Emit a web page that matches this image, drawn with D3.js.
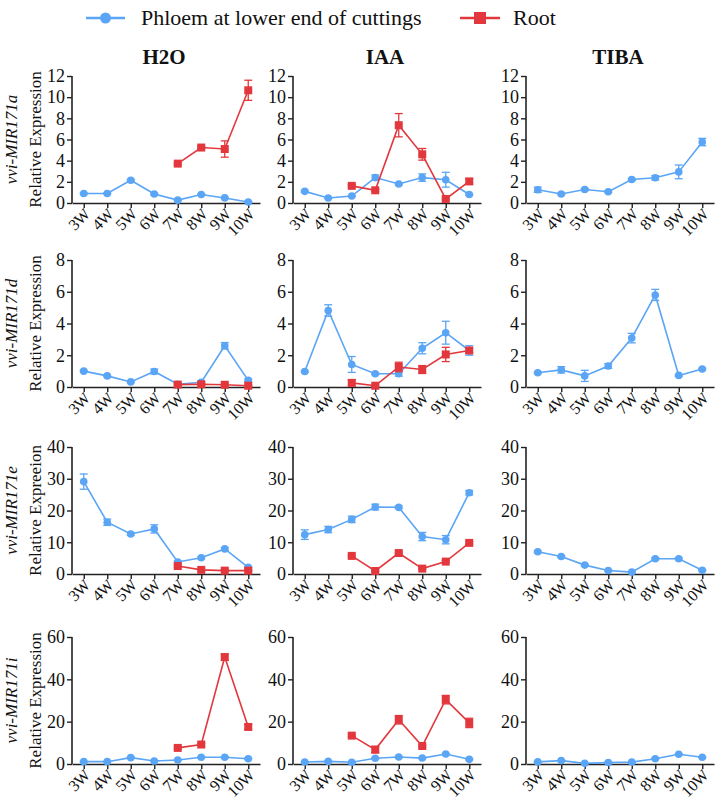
<!DOCTYPE html>
<html>
<head>
<meta charset="utf-8">
<script src="https://cdn.jsdelivr.net/npm/d3@7"></script>
<style>
  body { margin: 0; background: #fff; }
  svg { display: block; }
  svg text { font-family: "Liberation Serif", "DejaVu Serif", serif; }
</style>
</head>
<body>
<div id="chart"></div>
<script>
const weeks = ["3W", "4W", "5W", "6W", "7W", "8W", "9W", "10W"];
const treatments = ["H2O", "IAA", "TIBA"];
const genes = ["vvi-MIR171a", "vvi-MIR171d", "vvi-MIR171e", "vvi-MIR171i"];
const yTitles = ["Relative Expression", "Relative Expression", "Relative Expreeion", "Relative Expression"];
const yMax = [12, 8, 40, 60];
const yTickStep = [2, 2, 10, 20];
const seriesNames = ["Phloem at lower end of cuttings", "Root"];

// phloem means, per gene: [H2O, IAA, TIBA]
const phloem171a = [
  [0.9, 0.9, 2.15, 0.85, 0.27, 0.8, 0.48, 0.1],
  [1.1, 0.47, 0.66, 2.4, 1.8, 2.4, 2.2, 0.8],
  [1.25, 0.85, 1.28, 1.07, 2.22, 2.38, 2.94, 5.76]
];
const phloem171aErr = [
  [0.05, 0.05, 0.08, 0.08, 0.05, 0.06, 0.05, 0.05],
  [0.08, 0.05, 0.05, 0.25, 0.1, 0.35, 0.7, 0.08],
  [0.25, 0.08, 0.1, 0.08, 0.1, 0.2, 0.65, 0.35]
];
const root171a = [
  [null, null, null, null, 3.72, 5.24, 5.1, 10.65],
  [null, null, 1.62, 1.2, 7.35, 4.6, 0.38, 2.04],
  [null, null, null, null, null, null, null, null]
];
const root171aErr = [
  [0, 0, 0, 0, 0.1, 0.1, 0.77, 0.95],
  [0, 0, 0.1, 0.1, 1.1, 0.55, 0.1, 0.25],
  [0, 0, 0, 0, 0, 0, 0, 0]
];

const phloem171d = [
  [1.0, 0.7, 0.32, 0.98, 0.17, 0.3, 2.6, 0.42],
  [0.98, 4.82, 1.42, 0.83, 0.83, 2.44, 3.42, 2.3],
  [0.9, 1.08, 0.7, 1.32, 3.08, 5.8, 0.73, 1.13]
];
const phloem171dErr = [
  [0.05, 0.05, 0.05, 0.15, 0.05, 0.05, 0.2, 0.08],
  [0.05, 0.36, 0.5, 0.05, 0.15, 0.35, 0.72, 0.3],
  [0.05, 0.2, 0.35, 0.15, 0.3, 0.35, 0.05, 0.05]
];
const root171d = [
  [null, null, null, null, 0.15, 0.17, 0.14, 0.08],
  [null, null, 0.26, 0.08, 1.26, 1.1, 2.05, 2.3],
  [null, null, null, null, null, null, null, null]
];
const root171dErr = [
  [0, 0, 0, 0, 0.05, 0.05, 0.05, 0.03],
  [0, 0, 0.2, 0.05, 0.3, 0.25, 0.45, 0.15],
  [0, 0, 0, 0, 0, 0, 0, 0]
];

const phloem171e = [
  [29.1, 16.3, 12.6, 14.2, 3.8, 5.1, 7.9, 2.1],
  [12.4, 14.0, 17.2, 21.1, 21.0, 11.8, 10.8, 25.6],
  [7.0, 5.5, 2.8, 1.1, 0.6, 4.8, 4.8, 1.2]
];
const phloem171eErr = [
  [2.4, 1.0, 0.4, 1.3, 0.3, 0.3, 0.4, 0.2],
  [1.5, 1.0, 1.0, 0.9, 0.4, 1.3, 1.3, 0.7],
  [0.3, 0.3, 0.3, 0.2, 0.2, 0.3, 0.3, 0.2]
];
const root171e = [
  [null, null, null, null, 2.5, 1.3, 1.06, 1.06],
  [null, null, 5.7, 0.95, 6.6, 1.7, 3.9, 9.8],
  [null, null, null, null, null, null, null, null]
];
const root171eErr = [
  [0, 0, 0, 0, 0.4, 0.2, 0.2, 0.2],
  [0, 0, 0.3, 0.2, 0.3, 0.2, 0.3, 0.4],
  [0, 0, 0, 0, 0, 0, 0, 0]
];

const phloem171i = [
  [1.1, 1.1, 3.0, 1.4, 1.9, 3.2, 3.2, 2.5],
  [0.95, 1.26, 0.8, 2.7, 3.3, 2.8, 4.7, 2.2],
  [1.0, 1.6, 0.3, 0.7, 0.9, 2.5, 4.6, 3.2]
];
const phloem171iErr = [
  [0.2, 0.2, 0.3, 0.2, 0.2, 0.3, 0.3, 0.3],
  [0.2, 0.2, 0.2, 0.3, 0.3, 0.3, 0.3, 0.3],
  [0.2, 0.2, 0.2, 0.2, 0.2, 0.2, 0.3, 0.2]
];
const root171i = [
  [null, null, null, null, 7.6, 9.2, 50.5, 17.5],
  [null, null, 13.4, 6.8, 20.9, 8.5, 30.4, 19.4],
  [null, null, null, null, null, null, null, null]
];
const root171iErr = [
  [0, 0, 0, 0, 0.5, 0.5, 1.5, 1.2],
  [0, 0, 0.5, 1.5, 2.0, 0.5, 2.0, 2.2],
  [0, 0, 0, 0, 0, 0, 0, 0]
];

const phloemAll = [phloem171a, phloem171d, phloem171e, phloem171i];
const phloemErrAll = [phloem171aErr, phloem171dErr, phloem171eErr, phloem171iErr];
const rootAll = [root171a, root171d, root171e, root171i];
const rootErrAll = [root171aErr, root171dErr, root171eErr, root171iErr];

const width = 722, height = 801;
const blue = "#5aa5f5", red = "#e2383d", axisColor = "#222";
const serif = "Liberation Serif, DejaVu Serif, serif";

const colX = [72, 293, 526];
const rowTop = [76, 260, 447, 637];
const plotW = 188, plotH = 127;

const svg = d3.select("#chart")
  .append("svg")
  .attr("width", width)
  .attr("height", height);

// legend
const legend = svg.append("g").attr("transform", "translate(0,18)");
legend.append("line").attr("x1", 86).attr("x2", 125).attr("y1", 0).attr("y2", 0)
  .attr("stroke", blue).attr("stroke-width", 2.5);
legend.append("circle").attr("cx", 105.5).attr("cy", 0).attr("r", 5.5).attr("fill", blue);
legend.append("text").attr("x", 141).attr("y", 7).text(seriesNames[0])
  .attr("font-family", serif).attr("font-size", 22).attr("fill", "#111");
legend.append("line").attr("x1", 460).attr("x2", 500).attr("y1", 0).attr("y2", 0)
  .attr("stroke", red).attr("stroke-width", 2.5);
legend.append("rect").attr("x", 474).attr("y", -6).attr("width", 12).attr("height", 12).attr("fill", red);
legend.append("text").attr("x", 513).attr("y", 7).text(seriesNames[1])
  .attr("font-family", serif).attr("font-size", 22).attr("fill", "#111");

// column titles
treatments.forEach((t, j) => {
  svg.append("text")
    .attr("x", colX[j] + plotW / 2 - 2)
    .attr("y", 64)
    .attr("text-anchor", "middle")
    .attr("font-family", serif)
    .attr("font-size", 21)
    .attr("font-weight", "bold")
    .attr("fill", "#111")
    .text(t);
});

const x = d3.scalePoint().domain(weeks).range([0, plotW]).padding(0.5);

genes.forEach((gene, i) => {
  const y = d3.scaleLinear().domain([0, yMax[i]]).range([plotH, 0]);
  const ticks = d3.range(0, yMax[i] + 0.001, yTickStep[i]);

  // row labels
  const cy = rowTop[i] + plotH / 2;
  svg.append("text")
    .attr("transform", `translate(17,${cy}) rotate(-90)`)
    .attr("text-anchor", "middle")
    .attr("font-family", serif)
    .attr("font-size", 17)
    .attr("font-style", "italic")
    .attr("fill", "#111")
    .text(gene);
  svg.append("text")
    .attr("transform", `translate(41,${cy}) rotate(-90)`)
    .attr("text-anchor", "middle")
    .attr("font-family", serif)
    .attr("font-size", 17)
    .attr("fill", "#111")
    .text(yTitles[i]);

  treatments.forEach((t, j) => {
    const g = svg.append("g").attr("transform", `translate(${colX[j]},${rowTop[i]})`);

    const yAxis = g.append("g")
      .call(d3.axisLeft(y).tickValues(ticks).tickSize(5).tickPadding(2).tickFormat(d3.format("d")));
    const xAxis = g.append("g")
      .attr("transform", `translate(0,${plotH})`)
      .call(d3.axisBottom(x).tickSize(5).tickSizeOuter(0).tickPadding(3));

    [yAxis, xAxis].forEach(a => {
      a.attr("font-family", serif);
      a.select(".domain").attr("stroke", axisColor).attr("stroke-width", 1.6);
      a.selectAll(".tick line").attr("stroke", axisColor).attr("stroke-width", 1.4);
      a.selectAll("text").attr("fill", "#111").attr("font-family", serif);
    });
    yAxis.select(".domain").attr("d", `M0,0H0V${plotH}`);
    yAxis.attr("font-size", 18);
    xAxis.attr("font-size", 16);
    xAxis.selectAll("text")
      .attr("text-anchor", "end")
      .attr("dy", "0.35em")
      .attr("y", 0)
      .attr("transform", "translate(3,8) rotate(-45)");

    const series = [
      { vals: phloemAll[i][j], errs: phloemErrAll[i][j], color: blue, shape: "circle" },
      { vals: rootAll[i][j], errs: rootErrAll[i][j], color: red, shape: "square" }
    ];

    series.forEach(s => {
      const pts = weeks.map((w, k) => ({ w, v: s.vals[k], e: s.errs[k] }))
        .filter(d => d.v !== null);
      if (!pts.length) return;

      const line = d3.line().x(d => x(d.w)).y(d => y(d.v));
      g.append("path").datum(pts)
        .attr("d", line)
        .attr("fill", "none")
        .attr("stroke", s.color)
        .attr("stroke-width", 1.6);

      const eb = g.selectAll(null).data(pts.filter(d => d.e > 0)).enter().append("g")
        .attr("stroke", s.color).attr("stroke-width", 1.3);
      eb.append("line")
        .attr("x1", d => x(d.w)).attr("x2", d => x(d.w))
        .attr("y1", d => y(d.v + d.e)).attr("y2", d => y(Math.max(0, d.v - d.e)));
      eb.append("line")
        .attr("x1", d => x(d.w) - 4).attr("x2", d => x(d.w) + 4)
        .attr("y1", d => y(d.v + d.e)).attr("y2", d => y(d.v + d.e));
      eb.append("line")
        .attr("x1", d => x(d.w) - 4).attr("x2", d => x(d.w) + 4)
        .attr("y1", d => y(Math.max(0, d.v - d.e))).attr("y2", d => y(Math.max(0, d.v - d.e)));

      if (s.shape === "circle") {
        g.selectAll(null).data(pts).enter().append("circle")
          .attr("cx", d => x(d.w)).attr("cy", d => y(d.v))
          .attr("r", 3.8).attr("fill", s.color);
      } else {
        g.selectAll(null).data(pts).enter().append("rect")
          .attr("x", d => x(d.w) - 4).attr("y", d => y(d.v) - 4)
          .attr("width", 8).attr("height", 8).attr("fill", s.color);
      }
    });
  });
});
</script>
</body>
</html>
